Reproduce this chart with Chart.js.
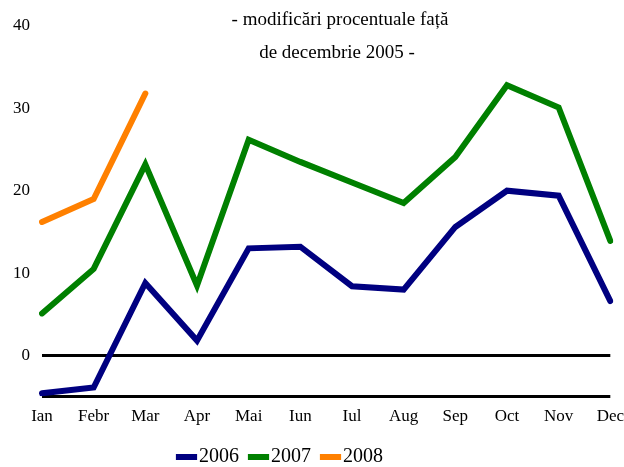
<!DOCTYPE html>
<html>
<head>
<meta charset="utf-8">
<script src="https://cdn.jsdelivr.net/npm/chart.js@4"></script>
<style>
    html, body { margin: 0; padding: 0; background: #fff; }
    #wrap { width: 624px; height: 467px; position: relative; }
</style>
</head>
<body>
<div id="wrap"><canvas id="chart"></canvas></div>
<script>
const months = ["Ian", "Febr", "Mar", "Apr", "Mai", "Iun", "Iul", "Aug", "Sep", "Oct", "Nov", "Dec"];

const values2006 = [-4.6, -3.9, 8.8, 1.8, 13.0, 13.2, 8.4, 8.0, 15.6, 20.0, 19.4, 6.6];
const values2007 = [5.1, 10.5, 23.2, 8.5, 26.2, 23.5, 21.0, 18.5, 24.1, 32.8, 30.1, 13.9];
const values2008 = [16.2, 19.0, 31.8];

const titleLines = ["- modificări procentuale față", "de decembrie 2005 -"];

const FONT = "'Liberation Serif', 'Times New Roman', serif";

// title sits inside the plot area, so draw it by hand
const titlePlugin = {
    id: "innerTitle",
    afterDraw(chart) {
        const ctx = chart.ctx;
        ctx.save();
        ctx.font = "19px " + FONT;
        ctx.fillStyle = "#000";
        ctx.textAlign = "center";
        ctx.textBaseline = "middle";
        ctx.fillText(titleLines[0], 340, 20);
        ctx.fillText(titleLines[1], 337, 53);
        ctx.restore();
    }
};

// legend in the reference is a bit left of centre
const legendShift = {
    id: "legendShift",
    afterLayout(chart) {
        const lg = chart.legend;
        lg.left -= 29;
        lg.right -= 29;
        lg.top += 3;
        lg.bottom += 3;
    }
};

function series(label, data, color) {
    return {
        label: label,
        data: data,
        borderColor: color,
        backgroundColor: color,
        borderWidth: 6,
        borderCapStyle: "round",
        borderJoinStyle: "miter",
        pointRadius: 0,
        tension: 0,
        fill: false
    };
}

new Chart(document.getElementById("chart").getContext("2d"), {
    type: "line",
    data: {
        labels: months,
        datasets: [
            series("2006", values2006, "#000080"),
            series("2007", values2007, "#008000"),
            series("2008", values2008, "#ff8000")
        ]
    },
    options: {
        responsive: true,
        maintainAspectRatio: false,
        animation: false,
        layout: {
            padding: { top: 26, left: 1, right: 0, bottom: -7 }
        },
        plugins: {
            legend: {
                position: "bottom",
                labels: {
                    usePointStyle: true,
                    pointStyle: "line",
                    boxWidth: 5,
                    boxHeight: 15,
                    padding: 17,
                    color: "#000",
                    font: { family: FONT, size: 20 }
                }
            },
            tooltip: { enabled: false }
        },
        scales: {
            x: {
                offset: false,
                grid: { display: false, drawTicks: true, tickLength: 10 },
                border: { display: false },
                ticks: {
                    color: "#000",
                    padding: 0,
                    maxRotation: 0,
                    autoSkip: false,
                    font: { family: FONT, size: 17 }
                }
            },
            y: {
                min: -5,
                max: 40,
                border: { display: false },
                grid: {
                    lineWidth: 3,
                    drawTicks: false,
                    color: (c) => (c.tick && (c.tick.value === 0 || c.tick.value === -5)) ? "#000" : "rgba(0,0,0,0)"
                },
                ticks: {
                    stepSize: 5,
                    color: "#000",
                    padding: 12,
                    font: { family: FONT, size: 17 },
                    callback: (v) => (v >= 0 && v % 10 === 0) ? v : ""
                }
            }
        }
    },
    plugins: [titlePlugin, legendShift]
});
</script>
</body>
</html>
